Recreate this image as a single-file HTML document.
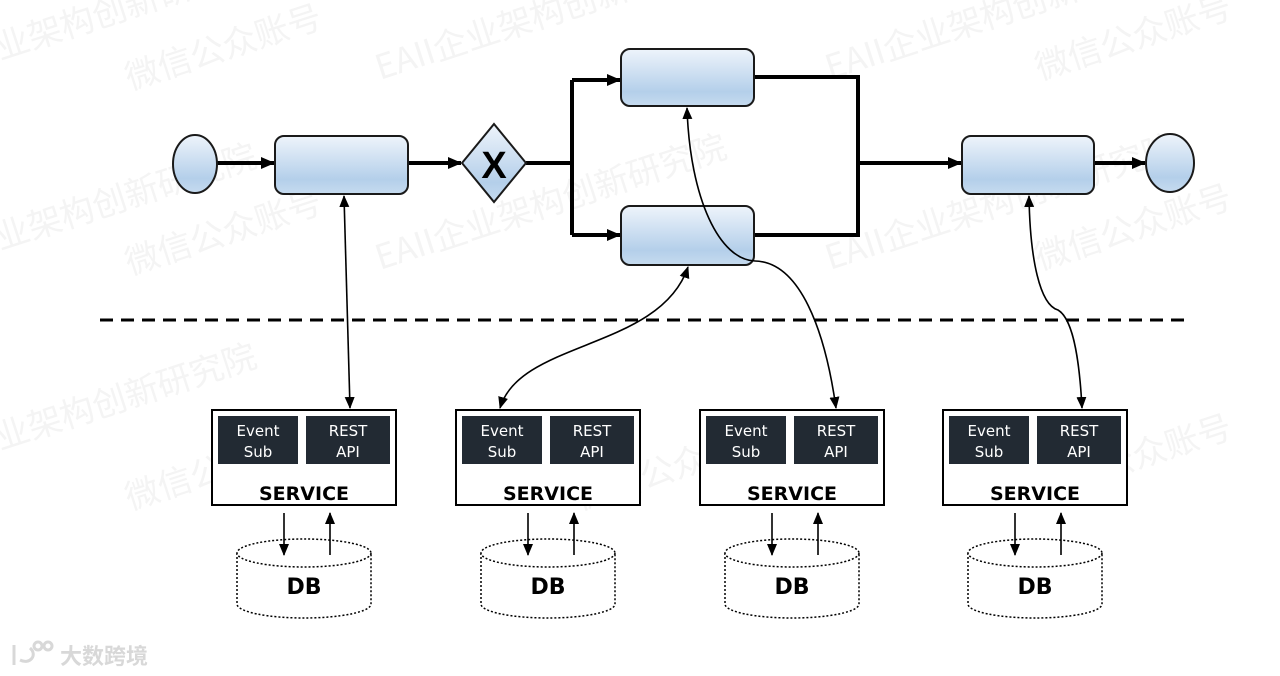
<!DOCTYPE html>
<html><head><meta charset="utf-8"><style>
html,body{margin:0;padding:0;background:#fff;}
svg{display:block;}
</style></head><body>
<svg width="1280" height="676" viewBox="0 0 1280 676" xmlns="http://www.w3.org/2000/svg">
<defs>
<linearGradient id="g" x1="0" y1="0" x2="0" y2="1">
<stop offset="0" stop-color="#eef4fb"/><stop offset="0.75" stop-color="#b4cfea"/><stop offset="1" stop-color="#c6dbef"/>
</linearGradient>
<marker id="ab" markerWidth="14" markerHeight="12" refX="13" refY="6" orient="auto" markerUnits="userSpaceOnUse"><path d="M0,0 L14,6 L0,12 z" fill="#000"/></marker>
<marker id="as" markerWidth="12" markerHeight="12" refX="11" refY="6" orient="auto" markerUnits="userSpaceOnUse"><path d="M0,1 L12,6 L0,11 z" fill="#000"/></marker>
<marker id="ast" markerWidth="12" markerHeight="12" refX="1" refY="6" orient="auto" markerUnits="userSpaceOnUse"><path d="M12,1 L0,6 L12,11 z" fill="#000"/></marker>
</defs>

<g font-family="'Noto Sans CJK SC',sans-serif" font-size="34" fill="#f4f4f4">
<text x="0" y="60" transform="rotate(-18 0 60)">业架构创新研究院</text>
<text x="130" y="90" transform="rotate(-18 130 90)">微信公众账号</text>
<text x="380" y="80" transform="rotate(-18 380 80)">EAII企业架构创新研究院</text>
<text x="0" y="250" transform="rotate(-18 0 250)">业架构创新研究院</text>
<text x="130" y="275" transform="rotate(-18 130 275)">微信公众账号</text>
<text x="380" y="270" transform="rotate(-18 380 270)">EAII企业架构创新研究院</text>
<text x="830" y="270" transform="rotate(-18 830 270)">EAII企业架构创新研究院</text>
<text x="1040" y="270" transform="rotate(-18 1040 270)">微信公众账号</text>
<text x="830" y="80" transform="rotate(-18 830 80)">EAII企业架构创新</text>
<text x="1040" y="80" transform="rotate(-18 1040 80)">微信公众账号</text>
<text x="0" y="450" transform="rotate(-18 0 450)">业架构创新研究院</text>
<text x="130" y="510" transform="rotate(-18 130 510)">微信公众账号</text>
<text x="580" y="510" transform="rotate(-18 580 510)">微信公众账号</text>
<text x="1040" y="500" transform="rotate(-18 1040 500)">微信公众账号</text>
</g>

<g stroke="#000" stroke-width="4" fill="none">
<line x1="217" y1="163" x2="274" y2="163" marker-end="url(#ab)"/>
<line x1="408" y1="163" x2="461" y2="163" marker-end="url(#ab)"/>
<polyline points="526,163 572,163"/>
<polyline points="572,235 572,80"/>
<line x1="572" y1="80" x2="620" y2="80" marker-end="url(#ab)"/>
<line x1="572" y1="235" x2="620" y2="235" marker-end="url(#ab)"/>
<polyline points="754,77 858,77 858,235 754,235"/>
<line x1="858" y1="163" x2="961" y2="163" marker-end="url(#ab)"/>
<line x1="1094" y1="163" x2="1145" y2="163" marker-end="url(#ab)"/>
</g>

<g stroke="#1a1a1a" stroke-width="2" fill="url(#g)">
<ellipse cx="195" cy="164" rx="22" ry="29"/>
<rect x="275" y="136" width="133" height="58" rx="9"/>
<polygon points="494,124 526,163 494,202 462,163"/>
<rect x="621" y="49" width="133" height="57" rx="9"/>
<rect x="621" y="206" width="133" height="59" rx="9"/>
<rect x="962" y="136" width="132" height="58" rx="9"/>
<ellipse cx="1170" cy="163" rx="24" ry="29"/>
</g>
<text x="494" y="178" font-family="'Liberation Sans',sans-serif" font-weight="bold" font-size="38" text-anchor="middle" fill="#000">X</text>

<line x1="100" y1="320" x2="1188" y2="320" stroke="#000" stroke-width="3" stroke-dasharray="13,8"/>

<g stroke="#000" stroke-width="1.6" fill="none">
<path d="M344,196 L350,408" marker-start="url(#ast)" marker-end="url(#as)"/>
<path d="M500,408 C520,340 660,350 688,267" marker-start="url(#ast)" marker-end="url(#as)"/>
<path d="M687,108 C690,200 720,260 755,261 C800,262 825,330 836,408" marker-start="url(#ast)" marker-end="url(#as)"/>
<path d="M1029,196 C1030,260 1040,305 1058,310 C1075,320 1080,370 1082,408" marker-start="url(#ast)" marker-end="url(#as)"/>
</g>

<g font-family="'DejaVu Sans','Liberation Sans',sans-serif">
<g id="svc1" transform="translate(212,0)">
<rect x="0" y="410" width="184" height="95" fill="#fff" stroke="#000" stroke-width="2"/>
<rect x="6" y="416" width="80" height="48" fill="#222a33"/>
<rect x="94" y="416" width="84" height="48" fill="#222a33"/>
<text x="46" y="436" fill="#fff" font-size="15" text-anchor="middle">Event</text>
<text x="46" y="457" fill="#fff" font-size="15" text-anchor="middle">Sub</text>
<text x="136" y="436" fill="#fff" font-size="15" text-anchor="middle">REST</text>
<text x="136" y="457" fill="#fff" font-size="15" text-anchor="middle">API</text>
<text x="92" y="500" fill="#000" font-size="19" font-weight="bold" text-anchor="middle">SERVICE</text>
<path d="M25,553 L25,604 A67,14 0 0 0 159,604 L159,553" fill="#fff" stroke="#000" stroke-width="1.5" stroke-dasharray="2,2"/>
<ellipse cx="92" cy="553" rx="67" ry="14" fill="#fff" stroke="#000" stroke-width="1.5" stroke-dasharray="2,2"/>
<text x="92" y="594" fill="#000" font-size="22" font-weight="bold" text-anchor="middle">DB</text>
<line x1="72" y1="513" x2="72" y2="555" stroke="#000" stroke-width="1.6" marker-end="url(#as)"/>
<line x1="118" y1="555" x2="118" y2="513" stroke="#000" stroke-width="1.6" marker-end="url(#as)"/>
</g>
<use href="#svc1" transform="translate(244,0)"/>
<use href="#svc1" transform="translate(488,0)"/>
<use href="#svc1" transform="translate(731,0)"/>
</g>

<g fill="none" stroke="#d8d8d8" stroke-width="3">
<path d="M14,645 L14,665"/><path d="M20,660 C30,665 38,655 30,648"/>
<circle cx="38" cy="646" r="4"/><circle cx="48" cy="646" r="4"/>
</g>
<text x="60" y="664" font-family="'Noto Sans CJK SC',sans-serif" font-size="22" font-weight="bold" fill="#d8d8d8">大数跨境</text>
</svg>
</body></html>
